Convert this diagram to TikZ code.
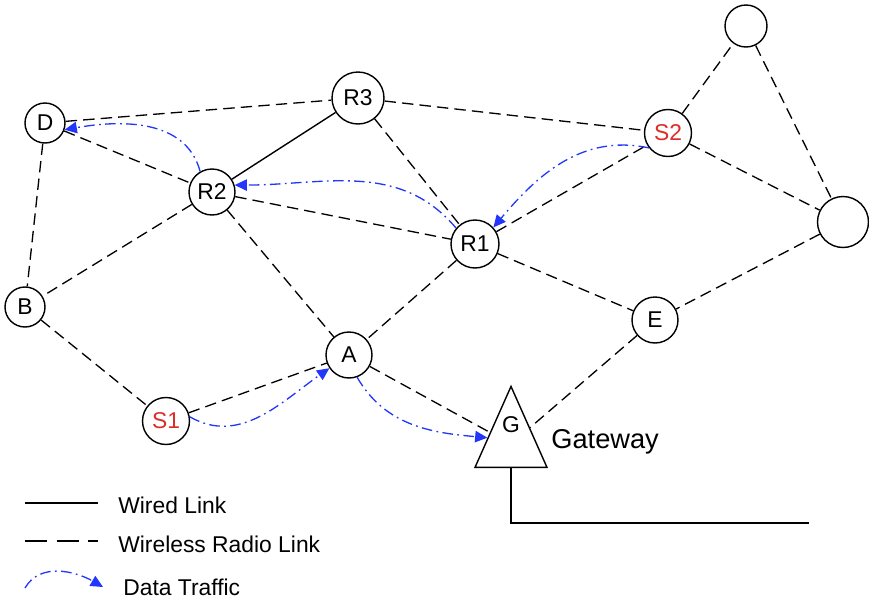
\documentclass[tikz,border=0pt]{standalone}
\usepackage{fontspec}
\setmainfont{Liberation Sans}
\usetikzlibrary{arrows.meta,shapes.geometric}

\definecolor{blutraffico}{RGB}{35,55,250}
\definecolor{rossosorg}{RGB}{220,45,40}

\begin{document}
\begin{tikzpicture}[x=0.02cm,y=-0.02cm,
    nodo/.style={draw,circle,line width=0.8pt,inner sep=0pt,
      font=\fontsize{13}{15}\selectfont},
    radio/.style={line width=0.75pt,dash pattern=on 6.5pt off 3.5pt},
    filo/.style={line width=0.8pt},
    traffico/.style={blutraffico,line width=0.75pt,
      dash pattern=on 6pt off 2.5pt on 1pt off 2.5pt,
      -{Triangle[length=7pt,width=6.5pt]}},
    testo/.style={font=\fontsize{13}{15}\selectfont,anchor=base west,inner sep=0pt}]
    \useasboundingbox (0,0) rectangle (869,599);

    % nodi
    \node[nodo,minimum size=0.8cm] (D) at (45,123) {D};
    \node[nodo,minimum size=1.04cm] (R3) at (358,98) {R3};
    \node[nodo,minimum size=0.92cm] (R2) at (212,192) {R2};
    \node[nodo,minimum size=0.96cm] (R1) at (475,244) {R1};
    \node[nodo,minimum size=0.94cm,text=rossosorg] (S2) at (668,133) {S2};
    \node[nodo,minimum size=0.84cm] (X1) at (746,26) {};
    \node[nodo,minimum size=1.02cm] (X2) at (843,222) {};
    \node[nodo,minimum size=0.92cm] (E) at (655,320) {E};
    \node[nodo,minimum size=0.8cm] (B) at (25,307) {B};
    \node[nodo,minimum size=0.92cm] (A) at (349,355) {A};
    \node[nodo,minimum size=0.94cm,text=rossosorg] (S1) at (166,421) {S1};

    % gateway
    \node[draw,isosceles triangle,isosceles triangle stretches,
      shape border rotate=90,minimum width=1.44cm,minimum height=1.62cm,
      inner sep=0pt,line width=0.8pt,
      label={[font=\fontsize{13}{15}\selectfont,yshift=0.38cm]center:G}]
      (G) at (511,444) {};
    \node[testo,font=\fontsize{15.5}{18}\selectfont] (gw) at (551,448) {Gateway};
    \coordinate (cavo) at (809,523);
    \draw[filo] (G.south) |- (cavo);

    % collegamenti
    \draw[filo] (R3) -- (R2);
    \draw[radio] (D) -- (R3);
    \draw[radio] (D) -- (R2);
    \draw[radio] (D) -- (B);
    \draw[radio] (R3) -- (S2);
    \draw[radio] (R3) -- (R1);
    \draw[radio] (R2) -- (R1);
    \draw[radio] (R2) -- (B);
    \draw[radio] (R2) -- (A);
    \draw[radio] (R1) -- (A);
    \draw[radio] (R1) -- (E);
    \draw[radio] (R1) -- (S2);
    \draw[radio] (S2) -- (X1);
    \draw[radio] (S2) -- (X2);
    \draw[radio] (X1) -- (X2);
    \draw[radio] (X2) -- (E);
    \draw[radio] (E) -- (G);
    \draw[radio] (B) -- (S1);
    \draw[radio] (S1) -- (A);
    \draw[radio] (A) -- (G);

    % traffico dati
    \draw[traffico] (S1.10) to[out=-30,in=-145] (A.214);
    \draw[traffico] (A.-70) to[out=-60,in=175] (G.165);
    \draw[traffico] (S2.218) to[out=168,in=50] (R1.42);
    \draw[traffico] (R1.140) to[out=130,in=0] (R2.17);
    \draw[traffico] (R2.120) to[out=105,in=10] (D.-19);

    % legenda
    \coordinate (w1) at (25,503);
    \coordinate (w2) at (98,503);
    \draw[filo] (w1) -- (w2);
    \node[testo] (lw) at (118,513) {Wired Link};
    \coordinate (r1) at (25,541);
    \coordinate (r2) at (98,541);
    \draw[filo,dash pattern=on 12.5pt off 5.5pt] (r1) -- (r2);
    \node[testo] (lr) at (118,552) {Wireless Radio Link};
    \coordinate (t1) at (25,588);
    \coordinate (t2) at (103,587);
    \draw[traffico] (t1) to[out=60,in=150] (t2);
    \node[testo] (lt) at (123,595) {Data Traffic};
\end{tikzpicture}
\end{document}
